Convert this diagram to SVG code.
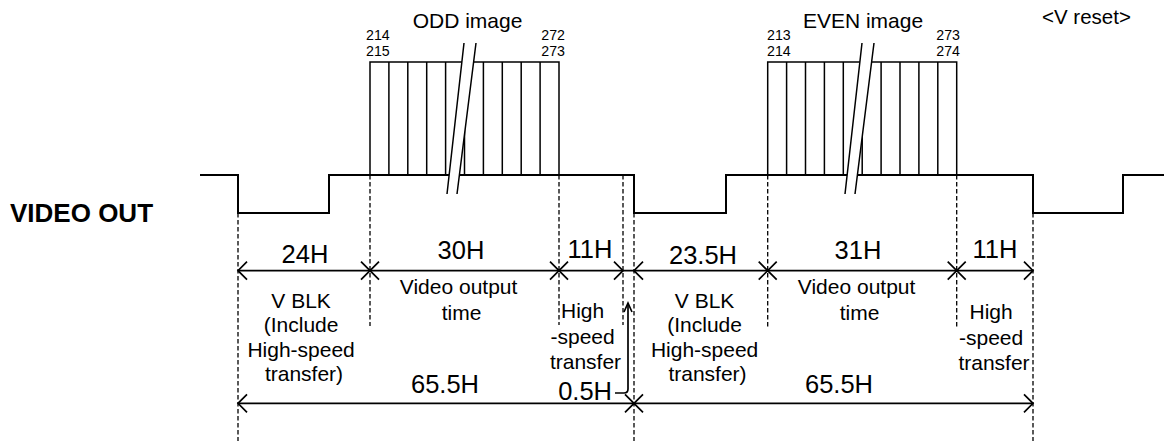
<svg xmlns="http://www.w3.org/2000/svg" xmlns:xlink="http://www.w3.org/1999/xlink" width="1164" height="441" viewBox="0 0 1164 441">
<style>
  text { font-family: "Liberation Sans", Arial, sans-serif; fill: #000; }
  .wave { fill: none; stroke: #000; stroke-width: 2; }
  .box { fill: none; stroke: #000; stroke-width: 1.5; }
  .dash { fill: none; stroke: #000; stroke-width: 1.3; stroke-dasharray: 4.5 2.5; }
  .dim { fill: none; stroke: #000; stroke-width: 1.7; }
  .brk { fill: #fff; stroke: none; }
  .brkl { fill: none; stroke: #000; stroke-width: 1.5; }
  .num { font-size: 14.2px; }
  .ttl { font-size: 21px; }
  .h { font-size: 25.5px; }
  .d { font-size: 21px; }
</style>
<defs>
  <path id="xm" class="dim" d="M-9,-9 L9,9 M-9,9 L9,-9"/>
  <path id="al" class="dim" d="M9,-9 L0,0 L9,9"/>
  <path id="ar" class="dim" d="M-9,-9 L0,0 L-9,9"/>
  <path id="au" class="dim" d="M-4,9 L0,0 L4,9"/>
</defs>

<g id="signal-label">
  <text x="10" y="222" style="font-size:26px;font-weight:bold">VIDEO OUT</text>
</g>

<g id="waveform">
  <path class="wave" d="M200,175 H238 V213 H329 V175 H634 V213 H726 V175 H1033 V213 H1123 V175 H1164"/>
</g>

<g id="odd-image">
  <path class="box" d="M370,175 V62 H559 V175 M388.9,62 V175 M407.8,62 V175 M426.7,62 V175 M445.6,62 V175 M464.5,62 V175 M483.4,62 V175 M502.3,62 V175 M521.2,62 V175 M540.1,62 V175"/>
  <polygon class="brk" points="464,43 476,43 457,194 447,194"/>
  <path class="brkl" d="M464,43 L447,194 M476,43 L457,194"/>
  <text class="ttl" x="467.5" y="28" text-anchor="middle">ODD image</text>
  <text class="num" x="366" y="40">214</text>
  <text class="num" x="366" y="56">215</text>
  <text class="num" x="565" y="40" text-anchor="end">272</text>
  <text class="num" x="565" y="56" text-anchor="end">273</text>
</g>

<g id="even-image">
  <path class="box" d="M767.7,175 V62 H956.7 V175 M786.6,62 V175 M805.5,62 V175 M824.4,62 V175 M843.3,62 V175 M862.2,62 V175 M881.1,62 V175 M900,62 V175 M918.9,62 V175 M937.8,62 V175"/>
  <polygon class="brk" points="862,43 874,43 855,194 845,194"/>
  <path class="brkl" d="M862,43 L845,194 M874,43 L855,194"/>
  <text class="ttl" x="863" y="28" text-anchor="middle">EVEN image</text>
  <text class="num" x="767" y="40">213</text>
  <text class="num" x="767" y="56">214</text>
  <text class="num" x="960" y="40" text-anchor="end">273</text>
  <text class="num" x="960" y="56" text-anchor="end">274</text>
</g>

<g id="v-reset">
  <text x="1042" y="24" style="font-size:20.5px">&lt;V reset&gt;</text>
</g>

<g id="connectors">
  <path class="dash" d="M238,213 V441 M634,213 V441 M1033,213 V441 M370,175 V326 M559,175 V325 M623,175 V325 M767.7,175 V327 M956.7,175 V327"/>
  <path class="dim" d="M238,270.7 H1033 M238,403.3 H1033"/>
  <use xlink:href="#al" x="238" y="270.7"/>
  <use xlink:href="#xm" x="370" y="270.7"/>
  <use xlink:href="#xm" x="559" y="270.7"/>
  <use xlink:href="#ar" x="623" y="270.7"/>
  <use xlink:href="#al" x="634" y="270.7"/>
  <use xlink:href="#xm" x="767.7" y="270.7"/>
  <use xlink:href="#xm" x="956.7" y="270.7"/>
  <use xlink:href="#ar" x="1033" y="270.7"/>
  <use xlink:href="#al" x="238" y="403.3"/>
  <use xlink:href="#xm" x="634" y="403.3"/>
  <use xlink:href="#ar" x="1033" y="403.3"/>
  <path class="dim" d="M615,393 H624 Q628,393 628,389 V303"/>
  <use xlink:href="#au" x="628" y="303"/>
</g>

<g id="dimension-labels">
  <text class="h" x="305" y="263" text-anchor="middle">24H</text>
  <text class="h" x="461" y="259" text-anchor="middle">30H</text>
  <text class="h" x="590" y="258" text-anchor="middle">11H</text>
  <text class="h" x="703" y="264" text-anchor="middle">23.5H</text>
  <text class="h" x="858" y="259" text-anchor="middle">31H</text>
  <text class="h" x="995" y="257.5" text-anchor="middle">11H</text>
  <text class="h" x="445" y="392.7" text-anchor="middle">65.5H</text>
  <text class="h" x="839" y="392.7" text-anchor="middle">65.5H</text>
  <text class="h" x="612" y="400" text-anchor="end">0.5H</text>
</g>

<g id="period-labels">
  <text class="d" text-anchor="middle">
    <tspan x="304" y="307.5">V BLK</tspan>
    <tspan x="304" y="332">(Include</tspan>
    <tspan x="304" y="357">High-speed</tspan>
    <tspan x="304" y="381">transfer)</tspan>
  </text>
  <text class="d" text-anchor="middle">
    <tspan x="461.5" y="294">Video output</tspan>
    <tspan x="461.5" y="320">time</tspan>
  </text>
  <text class="d" text-anchor="middle">
    <tspan x="585.5" y="318">High</tspan>
    <tspan x="585.5" y="343.5">-speed</tspan>
    <tspan x="585.5" y="368.5">transfer</tspan>
  </text>
  <text class="d" text-anchor="middle">
    <tspan x="707.5" y="307.5">V BLK</tspan>
    <tspan x="707.5" y="332">(Include</tspan>
    <tspan x="707.5" y="357">High-speed</tspan>
    <tspan x="707.5" y="381">transfer)</tspan>
  </text>
  <text class="d" text-anchor="middle">
    <tspan x="859.5" y="294">Video output</tspan>
    <tspan x="859.5" y="320">time</tspan>
  </text>
  <text class="d" text-anchor="middle">
    <tspan x="994" y="319">High</tspan>
    <tspan x="994" y="345">-speed</tspan>
    <tspan x="994" y="370">transfer</tspan>
  </text>
</g>
</svg>
